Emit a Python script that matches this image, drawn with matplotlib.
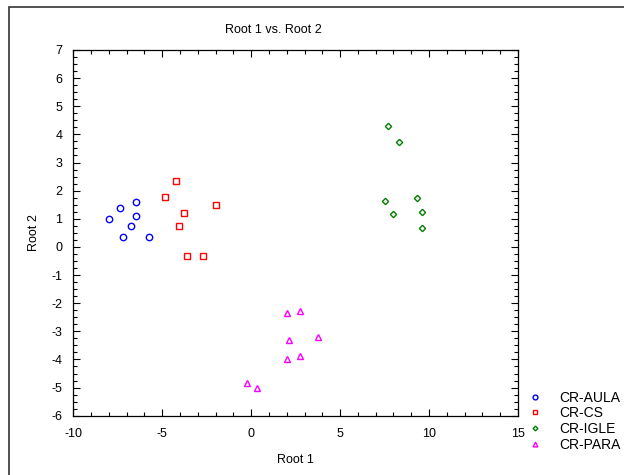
import numpy as np
import matplotlib.pyplot as plt
from matplotlib.ticker import MultipleLocator
from matplotlib.patches import Rectangle

plt.rcParams.update({
    "font.family": ["Liberation Sans", "DejaVu Sans"],
    "font.size": 9,
    "axes.unicode_minus": False,
})

GROUPS = ["CR-AULA", "CR-CS", "CR-IGLE", "CR-PARA"]

aula_x = [-7.98, -7.37, -6.48, -6.48, -6.77, -7.22, -5.73]
aula_y = [1.00, 1.39, 1.59, 1.11, 0.73, 0.35, 0.35]

cs_x = [-4.23, -4.83, -2.00, -3.78, -4.08, -3.63, -2.73]
cs_y = [2.33, 1.77, 1.49, 1.21, 0.73, -0.31, -0.31]

igle_x = [7.69, 8.29, 7.52, 9.32, 7.97, 9.62, 9.62]
igle_y = [4.29, 3.72, 1.63, 1.73, 1.16, 1.25, 0.68]

para_x = [2.00, 2.74, 2.12, 3.77, 2.00, 2.74, -0.25, 0.34]
para_y = [-2.36, -2.27, -3.31, -3.21, -3.97, -3.88, -4.83, -5.02]

SERIES = [
    (aula_x, aula_y, "o", "#0000ff"),
    (cs_x, cs_y, "s", "#ff0000"),
    (igle_x, igle_y, "D", "#008000"),
    (para_x, para_y, "^", "#ff00ff"),
]
SIZES = {"o": 4.6, "s": 4.4, "D": 3.2, "^": 4.6}

fig = plt.figure(figsize=(6.24, 4.75), dpi=100)
ax = fig.add_axes([0.1175, 0.1248, 0.7125, 0.770])

for name, (xs, ys, mk, col) in zip(GROUPS, SERIES):
    ax.plot(xs, ys, linestyle="none", marker=mk, markersize=SIZES[mk],
            markerfacecolor="none", markeredgecolor=col, markeredgewidth=1.0,
            label=name)

ax.set_xlim(-10, 15)
ax.set_ylim(-6, 7)
ax.xaxis.set_major_locator(MultipleLocator(5))
ax.xaxis.set_minor_locator(MultipleLocator(1))
ax.yaxis.set_major_locator(MultipleLocator(1))
ax.yaxis.set_minor_locator(MultipleLocator(0.25))
ax.tick_params(which="both", direction="in", top=True, right=True,
               width=0.8, labelsize=9)
ax.tick_params(which="major", length=5)
ax.tick_params(which="minor", length=3)
ax.tick_params(axis="x", which="major", pad=9)
ax.tick_params(axis="y", which="major", pad=8)
for s in ax.spines.values():
    s.set_linewidth(0.9)

ax.set_xlabel("Root 1", fontsize=9, labelpad=10)
ax.set_ylabel("Root 2", fontsize=9, labelpad=8)
fig.text(0.4375, 0.937, "Root 1 vs. Root 2", ha="center", va="center", fontsize=9)

leg = ax.legend(loc="upper left", bbox_to_anchor=(0.838, 0.1925),
                bbox_transform=fig.transFigure, frameon=False,
                handlelength=0.8, handletextpad=1.3, labelspacing=0.12,
                borderpad=0, fontsize=10, markerscale=0.75)

fig.patches.append(Rectangle((9 / 624, -0.1), 1.2, 1 - 7 / 475 + 0.1,
                             transform=fig.transFigure, fill=False,
                             edgecolor="#333333", linewidth=1.2))

fig.savefig("out.png", dpi=100)
